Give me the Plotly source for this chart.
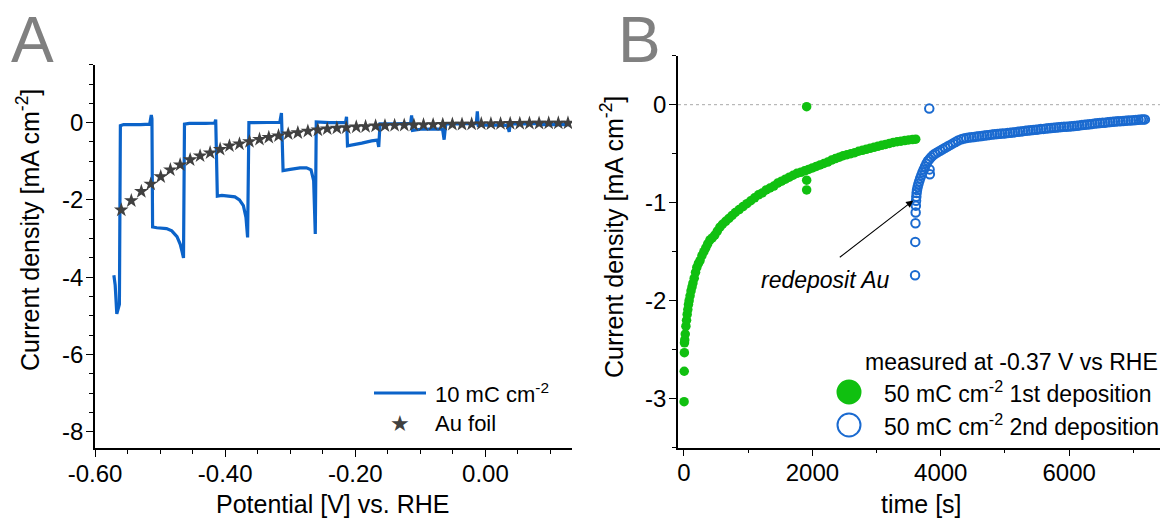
import plotly.graph_objects as go

W, H = 1175, 519
FONT = "Liberation Sans, Arial, Helvetica, sans-serif"

# ---------------- Panel A: 10 mC cm-2 deposit vs. Au foil ----------------
pot_a = [-0.571, -0.569, -0.5665, -0.5625, -0.561, -0.556, -0.530, -0.516,
         -0.5135, -0.5125, -0.5115, -0.505, -0.490, -0.482, -0.474, -0.469, -0.466, -0.464,
         -0.4625, -0.455, -0.430, -0.416, -0.4145,
         -0.412, -0.405, -0.395, -0.385, -0.378, -0.372, -0.368, -0.3655,
         -0.3635, -0.340, -0.316, -0.3135,
         -0.311, -0.300, -0.285, -0.275, -0.268, -0.264, -0.2615,
         -0.260, -0.240, -0.215, -0.2135,
         -0.212, -0.205, -0.190, -0.175, -0.166, -0.164,
         -0.162, -0.140, -0.115, -0.1135,
         -0.112, -0.100, -0.080, -0.066, -0.0635,
         -0.061, -0.040, -0.014, -0.0125,
         -0.011, 0.010, 0.034, 0.0365,
         0.038, 0.060, 0.085, 0.0865, 0.088, 0.110, 0.131]
cur_a = [-3.95, -4.20, -4.95, -4.70, -0.08, -0.05, -0.05, -0.04,
         0.20, 0.10, -2.70, -2.72, -2.74, -2.80, -2.95, -3.15, -3.35, -3.50,
         -0.04, -0.02, -0.02, -0.01, 0.08,
         -1.90, -1.88, -1.89, -1.92, -2.00, -2.15, -2.45, -2.97,
         0.00, 0.00, 0.01, 0.25,
         -1.24, -1.21, -1.17, -1.17, -1.22, -1.50, -2.88,
         0.02, 0.00, 0.00, 0.15,
         -0.60, -0.58, -0.53, -0.47, -0.45, -0.63,
         -0.03, -0.03, -0.02, 0.19,
         -0.20, -0.17, -0.16, -0.16, -0.44,
         -0.03, -0.03, -0.02, 0.29,
         -0.07, -0.06, -0.07, -0.24,
         -0.03, -0.03, -0.02, 0.03, -0.05, -0.05, -0.05]

pot_foil = [-0.5596, -0.5442, -0.5288, -0.5144, -0.4990, -0.4842, -0.4692, -0.4538,
            -0.4385, -0.4231, -0.4077, -0.3934, -0.3780, -0.3626, -0.3472, -0.3329,
            -0.3180, -0.3031, -0.2883, -0.2729, -0.2575, -0.2431, -0.2283, -0.2139,
            -0.1985, -0.1842, -0.1688, -0.1544, -0.1396, -0.1248, -0.1100, -0.0952,
            -0.0804, -0.0656, -0.0508, -0.0360, -0.0212, -0.0064, 0.0084, 0.0232,
            0.0380, 0.0528, 0.0676, 0.0824, 0.0972, 0.1120, 0.1268]
cur_foil = [-2.26, -2.02, -1.78, -1.59, -1.40, -1.22, -1.09, -0.96,
            -0.86, -0.78, -0.69, -0.60, -0.55, -0.49, -0.43, -0.38,
            -0.34, -0.29, -0.26, -0.22, -0.19, -0.16, -0.14, -0.13,
            -0.11, -0.10, -0.085, -0.08, -0.07, -0.065, -0.06, -0.055,
            -0.05, -0.045, -0.04, -0.04, -0.035, -0.03, -0.03, -0.025,
            -0.02, -0.02, -0.015, -0.015, -0.01, -0.01, -0.01]

xa_ticks = [-0.6, -0.4, -0.2, 0.0]
xa_text = ["-0.60", "-0.40", "-0.20", "0.00"]
ya_ticks = [-8, -6, -4, -2, 0]
ya_text = ["-8", "-6", "-4", "-2", "0"]

# ---------------- Panel B: chronoamperometry at -0.37 V ----------------
t_first = [2, 4, 6, 8, 12, 20, 30, 40, 50, 60, 70, 80, 95, 110, 125, 140, 160, 180, 200,
           225, 250, 280, 310, 340, 370, 405, 440, 480, 520, 560, 600, 650, 700, 750,
           800, 860, 920, 980, 1040, 1100, 1160, 1220, 1280, 1340, 1400, 1460, 1520,
           1580, 1640, 1700, 1760, 1820, 1880, 1911, 1911, 1911, 1940, 2000, 2060, 2120,
           2180, 2240, 2300, 2360, 2420, 2480, 2540, 2600, 2660, 2720, 2780, 2840, 2900,
           2960, 3020, 3080, 3140, 3200, 3260, 3320, 3380, 3440, 3500, 3560, 3610]
j_first = [-3.03, -2.72, -2.53, -2.43, -2.40, -2.34, -2.26, -2.20, -2.14, -2.09, -2.04,
           -2.00, -1.95, -1.90, -1.86, -1.82, -1.77, -1.71, -1.66,
           -1.62, -1.59, -1.54, -1.50, -1.46, -1.42, -1.38, -1.36, -1.33, -1.29, -1.25,
           -1.22, -1.19, -1.16, -1.13,
           -1.10, -1.07, -1.04, -1.01, -0.98, -0.95, -0.92, -0.90, -0.87, -0.85, -0.83,
           -0.80, -0.78, -0.76, -0.74, -0.72, -0.70, -0.69, -0.675, -0.02, -0.77, -0.87,
           -0.66, -0.645, -0.63, -0.615,
           -0.60, -0.585, -0.565, -0.55, -0.535, -0.52, -0.51, -0.50, -0.49, -0.475,
           -0.465, -0.455, -0.445,
           -0.435, -0.425, -0.415, -0.405, -0.395, -0.385, -0.378, -0.372, -0.366,
           -0.36, -0.356, -0.352]

t_second = [3600, 3603, 3606, 3609, 3612, 3615, 3619, 3624, 3630, 3640, 3652, 3665, 3680,
            3698, 3716, 3735, 3755, 3778, 3800, 3821, 3825, 3826, 3830, 3850, 3880, 3910,
            3950, 3990, 4030, 4070, 4110, 4150, 4190, 4230, 4270, 4320, 4360, 4400, 4440,
            4480, 4520, 4560, 4600, 4640, 4680, 4720, 4760, 4800, 4840, 4880, 4920, 4960,
            5000, 5040, 5080, 5120, 5160, 5200, 5240, 5280, 5320, 5360, 5400, 5440, 5480,
            5520, 5560, 5600, 5640, 5680, 5720, 5760, 5800, 5840, 5880, 5920, 5960, 6000,
            6040, 6080, 6120, 6160, 6200, 6240, 6280, 6320, 6360, 6400, 6440, 6480, 6520,
            6560, 6600, 6640, 6680, 6720, 6760, 6800, 6840, 6880, 6920, 6960, 7000, 7040,
            7080, 7120, 7150, 7180]
j_second = [-1.74, -1.40, -1.21, -1.10, -1.03, -0.98, -0.94, -0.90, -0.87, -0.84, -0.81,
            -0.78, -0.75, -0.72, -0.69, -0.66, -0.63, -0.60, -0.575, -0.04, -0.555, -0.66,
            -0.71, -0.535, -0.515, -0.50,
            -0.485, -0.47, -0.455, -0.44, -0.425, -0.41, -0.395, -0.38, -0.365, -0.352,
            -0.345, -0.340, -0.335,
            -0.332, -0.329, -0.325, -0.322, -0.319, -0.315, -0.312, -0.308, -0.305,
            -0.302, -0.300, -0.297, -0.295,
            -0.293, -0.290, -0.287, -0.284, -0.280, -0.277, -0.274, -0.270, -0.267,
            -0.264, -0.260, -0.257, -0.255,
            -0.252, -0.249, -0.247, -0.244, -0.241, -0.239, -0.236, -0.233, -0.231,
            -0.228, -0.226, -0.224, -0.222,
            -0.220, -0.217, -0.214, -0.211, -0.208, -0.205, -0.202, -0.199, -0.196,
            -0.193, -0.190, -0.188, -0.185,
            -0.183, -0.180, -0.177, -0.175, -0.172, -0.170, -0.168, -0.166, -0.164,
            -0.162, -0.160, -0.158, -0.156,
            -0.154, -0.152, -0.151, -0.150]

xb_ticks = [0, 2000, 4000, 6000]
xb_text = ["0", "2000", "4000", "6000"]
yb_ticks = [-3, -2, -1, 0]
yb_text = ["-3", "-2", "-1", "0"]

BLUE = "#0b63c9"
GREEN = "#10c010"
CIRC_BLUE = "#1a6ad0"
STAR = "#404040"


def px(x):
    return x / W


def py(y):
    return 1 - y / H


fig = go.Figure()

fig.add_trace(go.Scatter(x=pot_a, y=cur_a, mode="lines",
                         line=dict(color=BLUE, width=3.2), xaxis="x", yaxis="y"))
fig.add_trace(go.Scatter(x=pot_foil, y=cur_foil, mode="markers",
                         marker=dict(symbol="star", size=11, color=STAR,
                                     line=dict(width=0)),
                         xaxis="x", yaxis="y"))
fig.add_trace(go.Scatter(x=t_first, y=j_first, mode="markers",
                         marker=dict(symbol="circle", size=9.5, color=GREEN,
                                     line=dict(width=0)),
                         xaxis="x2", yaxis="y2"))
fig.add_trace(go.Scatter(x=t_second, y=j_second, mode="markers",
                         marker=dict(symbol="circle-open", size=8.5, color=CIRC_BLUE,
                                     line=dict(width=2, color=CIRC_BLUE)),
                         xaxis="x2", yaxis="y2"))

axis_common = dict(showline=True, linecolor="black", linewidth=1.5, mirror=False,
                   ticks="outside", ticklen=7, tickwidth=1.3, tickcolor="black",
                   showgrid=False, zeroline=False, automargin=False,
                   tickfont=dict(family=FONT, size=24, color="black"),
                   tickmode="array")

fig.update_layout(
    template="none",
    width=W, height=H,
    margin=dict(l=0, r=0, t=0, b=0, pad=0),
    paper_bgcolor="white", plot_bgcolor="white",
    showlegend=False,
    font=dict(family=FONT, color="black"),
    xaxis=dict(domain=[px(95), px(572)], range=[-0.6, 0.133], anchor="y",
               tickvals=xa_ticks, ticktext=xa_text, ticklabelstandoff=-4,
               minor=dict(dtick=0.05, tick0=-0.6, ticks="outside", ticklen=4,
                          tickwidth=1.2, tickcolor="black", showgrid=False),
               **axis_common),
    yaxis=dict(domain=[py(448), py(64.7)], range=[-8.42, 1.5], anchor="x",
               tickvals=ya_ticks, ticktext=ya_text, ticklabelstandoff=-2,
               minor=dict(dtick=0.5, tick0=0, ticks="outside", ticklen=4,
                          tickwidth=1.2, tickcolor="black", showgrid=False),
               **axis_common),
    xaxis2=dict(domain=[px(678), px(1160)], range=[-93, 7415], anchor="y2",
                tickvals=xb_ticks, ticktext=xb_text, ticklabelstandoff=-4,
                minor=dict(dtick=1000, tick0=0, ticks="outside", ticklen=4,
                           tickwidth=1.2, tickcolor="black", showgrid=False),
                **axis_common),
    yaxis2=dict(domain=[py(447.7), py(55.7)], range=[-3.5, 0.5], anchor="x2",
                tickvals=yb_ticks, ticktext=yb_text, ticklabelstandoff=-2,
                minor=dict(dtick=0.5, tick0=0, ticks="outside", ticklen=4,
                           tickwidth=1.2, tickcolor="black", showgrid=False),
                **axis_common),
)

# zero reference in panel B
fig.add_shape(type="line", xref="x2 domain", yref="y2", x0=0, x1=1, y0=0, y1=0,
              line=dict(color="#a8a8a8", width=1, dash="dot"), layer="below")

ann = []
# panel letters
ann.append(dict(text="A", x=px(32), y=py(40), font=dict(size=64, color="#808080")))
ann.append(dict(text="B", x=px(639), y=py(40), font=dict(size=64, color="#808080")))
# axis titles
ann.append(dict(text="Potential [V] vs. RHE", x=px(332), y=py(504),
                font=dict(size=25)))
ann.append(dict(text="time [s]", x=px(921), y=py(504), font=dict(size=25)))
ann.append(dict(text="Current density [mA cm<sup>-2</sup>]", x=px(28), y=py(230),
                textangle=-90, font=dict(size=25)))
ann.append(dict(text="Current density [mA cm<sup>-2</sup>]", x=px(612), y=py(237),
                textangle=-90, font=dict(size=25)))
# panel A legend
ann.append(dict(text="10 mC cm<sup>-2</sup>", x=px(433), y=py(393), xanchor="left",
                font=dict(size=22)))
ann.append(dict(text="Au foil", x=px(433), y=py(423), xanchor="left",
                font=dict(size=22)))
ann.append(dict(text="★", x=px(400), y=py(423), font=dict(size=22, color=STAR)))
# panel B legend
ann.append(dict(text="measured at -0.37 V vs RHE", x=px(1160), y=py(362),
                xanchor="right", font=dict(size=23)))
ann.append(dict(text="50 mC cm<sup>-2</sup> 1st deposition", x=px(882), y=py(392),
                xanchor="left", font=dict(size=23)))
ann.append(dict(text="50 mC cm<sup>-2</sup> 2nd deposition", x=px(882), y=py(425),
                xanchor="left", font=dict(size=23)))
# redeposition label with arrow
ann.append(dict(text="<i>redeposit Au</i>", x=px(825), y=py(280), font=dict(size=23)))

for a in ann:
    a.setdefault("xref", "paper")
    a.setdefault("yref", "paper")
    a.setdefault("showarrow", False)
    a.setdefault("xanchor", "center")
    a.setdefault("yanchor", "middle")
    f = a["font"]
    f.setdefault("family", FONT)
    f.setdefault("color", "black")
    fig.add_annotation(**a)

fig.add_annotation(x=3572, y=-0.977, xref="x2", yref="y2", ax=-75, ay=58,
                   text="", showarrow=True, arrowhead=2, arrowsize=1.3,
                   arrowwidth=1.1, arrowcolor="black", standoff=0)

# legend symbols
fig.add_shape(type="line", xref="paper", yref="paper", x0=px(374), x1=px(426),
              y0=py(393), y1=py(393), line=dict(color=BLUE, width=3))
fig.add_shape(type="circle", xref="paper", yref="paper", xsizemode="pixel",
              ysizemode="pixel", xanchor=px(849), yanchor=py(392),
              x0=-12.5, x1=12.5, y0=-12.5, y1=12.5,
              fillcolor=GREEN, line=dict(width=0))
fig.add_shape(type="circle", xref="paper", yref="paper", xsizemode="pixel",
              ysizemode="pixel", xanchor=px(849), yanchor=py(425),
              x0=-11.5, x1=11.5, y0=-11.5, y1=11.5,
              fillcolor="white", line=dict(color=CIRC_BLUE, width=2))

fig.write_html("out.html")
